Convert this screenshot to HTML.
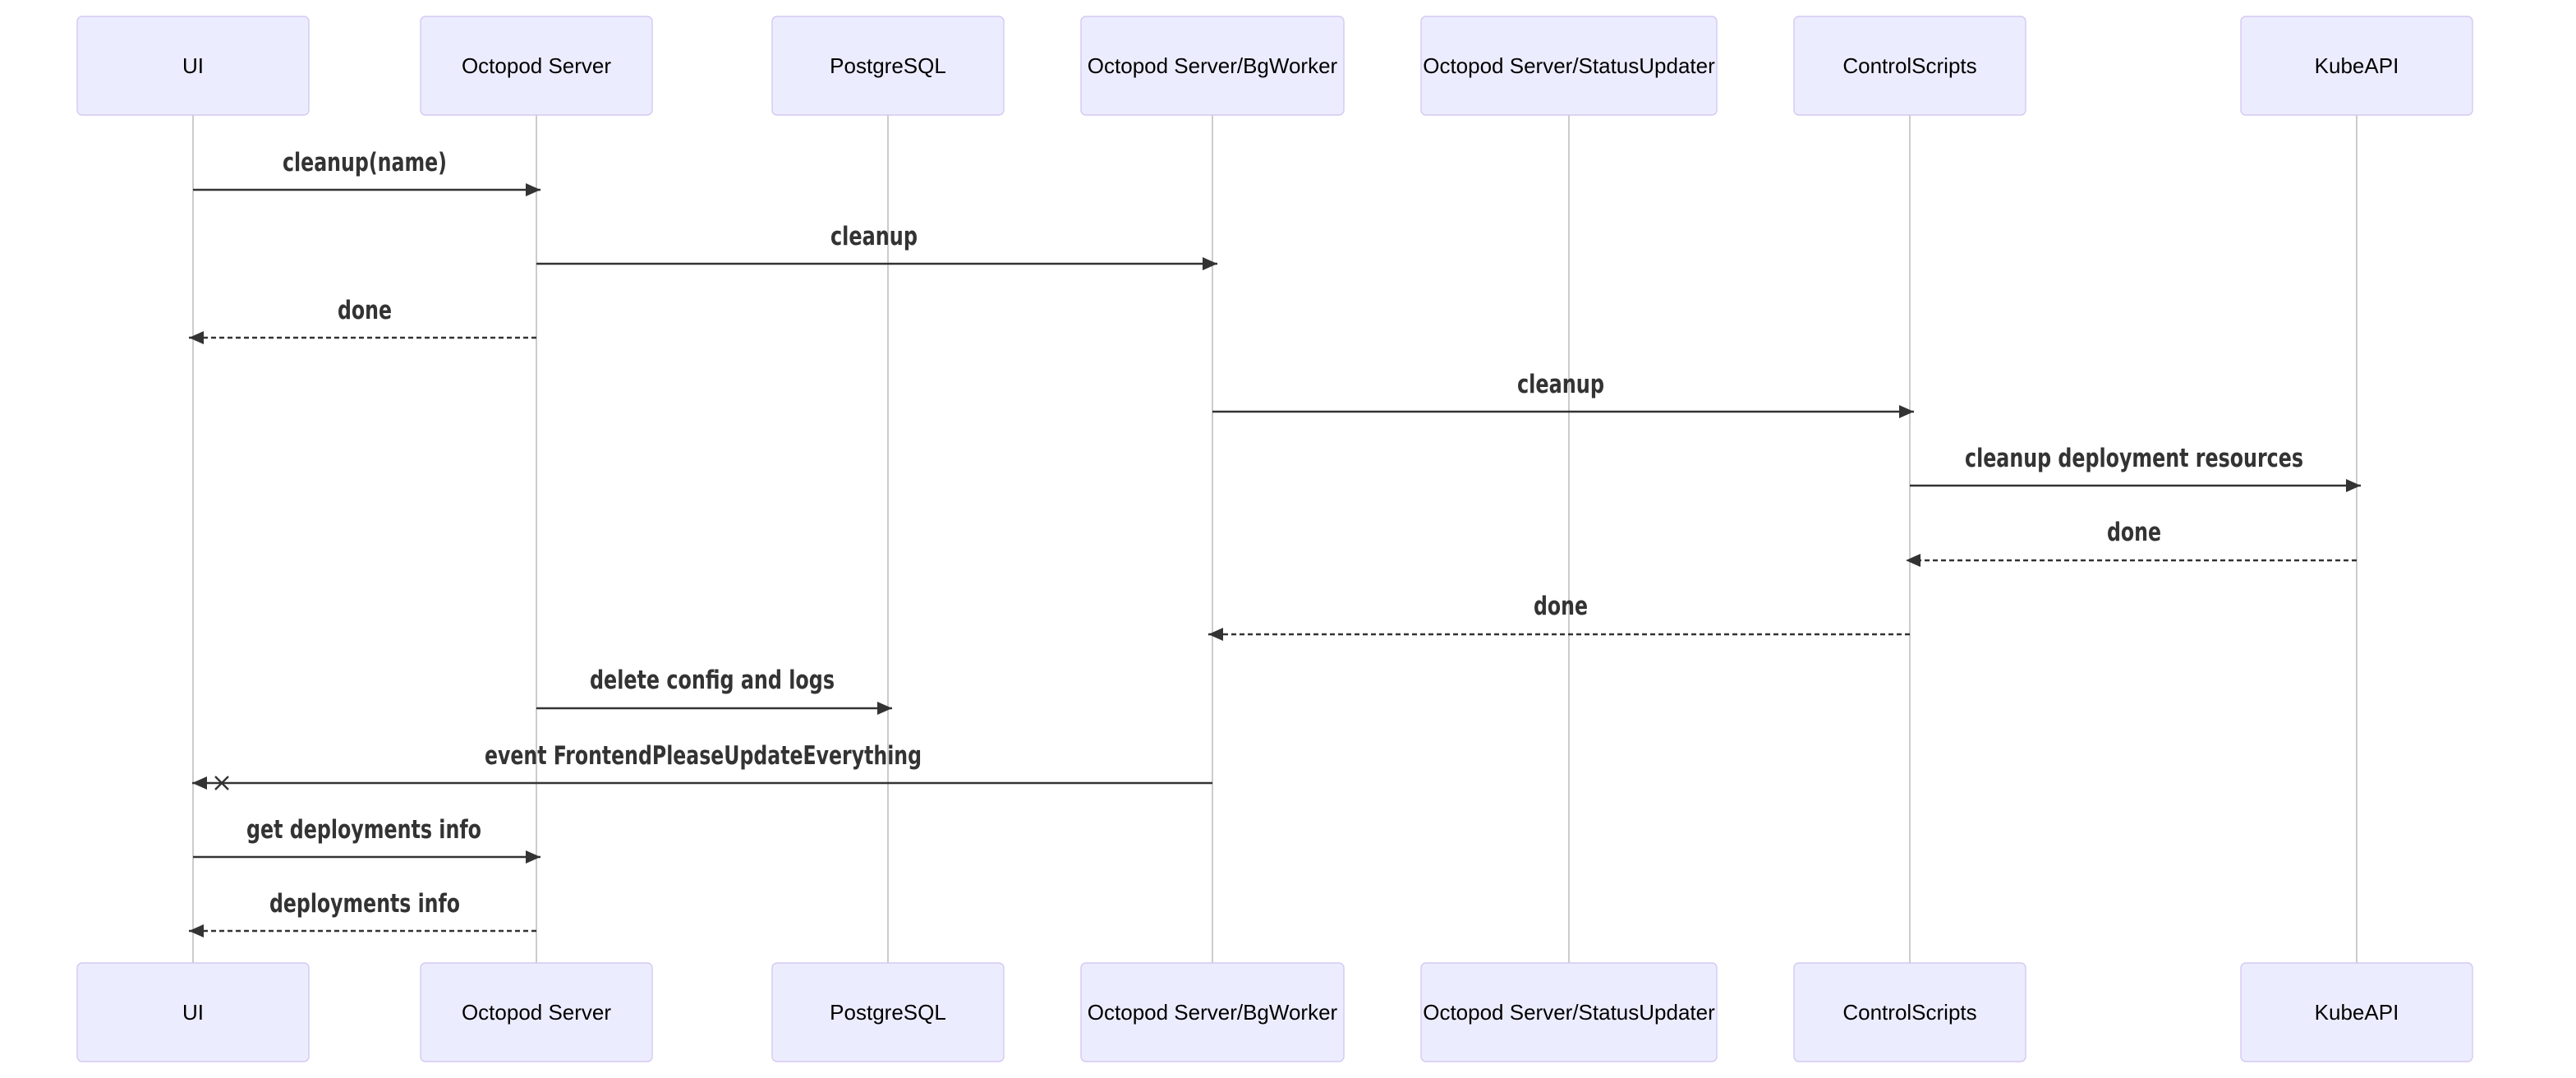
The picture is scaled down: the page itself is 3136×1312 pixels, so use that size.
<!DOCTYPE html>
<html><head><meta charset="utf-8"><style>
html,body{margin:0;padding:0;background:#fff;width:3136px;height:1312px;overflow:hidden}
svg{display:block}
.box{fill:#ECECFF;stroke:#D4C9F2;stroke-width:0.7}
.act{font-family:"Liberation Sans",Arial,sans-serif;font-size:13px;fill:#000;text-anchor:middle;dominant-baseline:central}
.life{stroke:#aaa;stroke-width:0.6}
.msg{font-family:"DejaVu Sans","Liberation Sans",sans-serif;font-stretch:condensed;font-weight:bold;font-size:15.5px;fill:#333;text-anchor:middle}
.ln{stroke:#333;stroke-width:1.2;fill:none}
.d{stroke-dasharray:3,2}
</style></head><body>
<svg width="3136" height="1312" viewBox="0 0 1568 656" xmlns="http://www.w3.org/2000/svg">
<defs>
<marker id="ah" markerWidth="10" markerHeight="9" refX="9" refY="4.5" orient="auto" markerUnits="userSpaceOnUse">
<path d="M0,0.5 L9,4.5 L0,8.5 z" fill="#333"/>
</marker>
</defs>
<g>
<line class="life" x1="117.5" y1="70" x2="117.5" y2="586"/>
<line class="life" x1="326.5" y1="70" x2="326.5" y2="586"/>
<line class="life" x1="540.5" y1="70" x2="540.5" y2="586"/>
<line class="life" x1="738" y1="70" x2="738" y2="586"/>
<line class="life" x1="955" y1="70" x2="955" y2="586"/>
<line class="life" x1="1162.5" y1="70" x2="1162.5" y2="586"/>
<line class="life" x1="1434.5" y1="70" x2="1434.5" y2="586"/>
</g>
<g>
<rect class="box" x="47" y="10" width="141" height="60" rx="3"/><text class="act" x="117.5" y="40">UI</text>
<rect class="box" x="256" y="10" width="141" height="60" rx="3"/><text class="act" x="326.5" y="40">Octopod Server</text>
<rect class="box" x="470" y="10" width="141" height="60" rx="3"/><text class="act" x="540.5" y="40">PostgreSQL</text>
<rect class="box" x="658" y="10" width="160" height="60" rx="3"/><text class="act" x="738" y="40">Octopod Server/BgWorker</text>
<rect class="box" x="865" y="10" width="180" height="60" rx="3"/><text class="act" x="955" y="40">Octopod Server/StatusUpdater</text>
<rect class="box" x="1092" y="10" width="141" height="60" rx="3"/><text class="act" x="1162.5" y="40">ControlScripts</text>
<rect class="box" x="1364" y="10" width="141" height="60" rx="3"/><text class="act" x="1434.5" y="40">KubeAPI</text>

<rect class="box" x="47" y="586" width="141" height="60" rx="3"/><text class="act" x="117.5" y="616">UI</text>
<rect class="box" x="256" y="586" width="141" height="60" rx="3"/><text class="act" x="326.5" y="616">Octopod Server</text>
<rect class="box" x="470" y="586" width="141" height="60" rx="3"/><text class="act" x="540.5" y="616">PostgreSQL</text>
<rect class="box" x="658" y="586" width="160" height="60" rx="3"/><text class="act" x="738" y="616">Octopod Server/BgWorker</text>
<rect class="box" x="865" y="586" width="180" height="60" rx="3"/><text class="act" x="955" y="616">Octopod Server/StatusUpdater</text>
<rect class="box" x="1092" y="586" width="141" height="60" rx="3"/><text class="act" x="1162.5" y="616">ControlScripts</text>
<rect class="box" x="1364" y="586" width="141" height="60" rx="3"/><text class="act" x="1434.5" y="616">KubeAPI</text>
</g>
<g>
<text class="msg" x="222" y="104" textLength="100" lengthAdjust="spacingAndGlyphs">cleanup(name)</text>
<line class="ln" x1="117.5" y1="115.5" x2="329" y2="115.5" marker-end="url(#ah)"/>

<text class="msg" x="532" y="149" textLength="53" lengthAdjust="spacingAndGlyphs">cleanup</text>
<line class="ln" x1="326.5" y1="160.5" x2="741" y2="160.5" marker-end="url(#ah)"/>

<text class="msg" x="222" y="194" textLength="33" lengthAdjust="spacingAndGlyphs">done</text>
<line class="ln d" x1="326.5" y1="205.5" x2="115" y2="205.5" marker-end="url(#ah)"/>

<text class="msg" x="950" y="239" textLength="53" lengthAdjust="spacingAndGlyphs">cleanup</text>
<line class="ln" x1="738" y1="250.5" x2="1165" y2="250.5" marker-end="url(#ah)"/>

<text class="msg" x="1299" y="284" textLength="206" lengthAdjust="spacingAndGlyphs">cleanup deployment resources</text>
<line class="ln" x1="1162.5" y1="295.5" x2="1437" y2="295.5" marker-end="url(#ah)"/>

<text class="msg" x="1299" y="329" textLength="33" lengthAdjust="spacingAndGlyphs">done</text>
<line class="ln d" x1="1434.5" y1="341" x2="1160" y2="341" marker-end="url(#ah)"/>

<text class="msg" x="950" y="374" textLength="33" lengthAdjust="spacingAndGlyphs">done</text>
<line class="ln d" x1="1162.5" y1="386" x2="735.5" y2="386" marker-end="url(#ah)"/>

<text class="msg" x="433.5" y="419" textLength="149" lengthAdjust="spacingAndGlyphs">delete config and logs</text>
<line class="ln" x1="326.5" y1="431" x2="543" y2="431" marker-end="url(#ah)"/>

<text class="msg" x="428" y="465" textLength="266" lengthAdjust="spacingAndGlyphs">event FrontendPleaseUpdateEverything</text>
<line class="ln" x1="738" y1="476.5" x2="117" y2="476.5" marker-end="url(#ah)"/>
<path d="M131,472.5 L139,480.5 M139,472.5 L131,480.5" stroke="#333" stroke-width="1.2"/>

<text class="msg" x="221.5" y="510" textLength="143" lengthAdjust="spacingAndGlyphs">get deployments info</text>
<line class="ln" x1="117.5" y1="521.5" x2="329" y2="521.5" marker-end="url(#ah)"/>

<text class="msg" x="222" y="555" textLength="116" lengthAdjust="spacingAndGlyphs">deployments info</text>
<line class="ln d" x1="326.5" y1="566.5" x2="115" y2="566.5" marker-end="url(#ah)"/>
</g>
</svg>
</body></html>
